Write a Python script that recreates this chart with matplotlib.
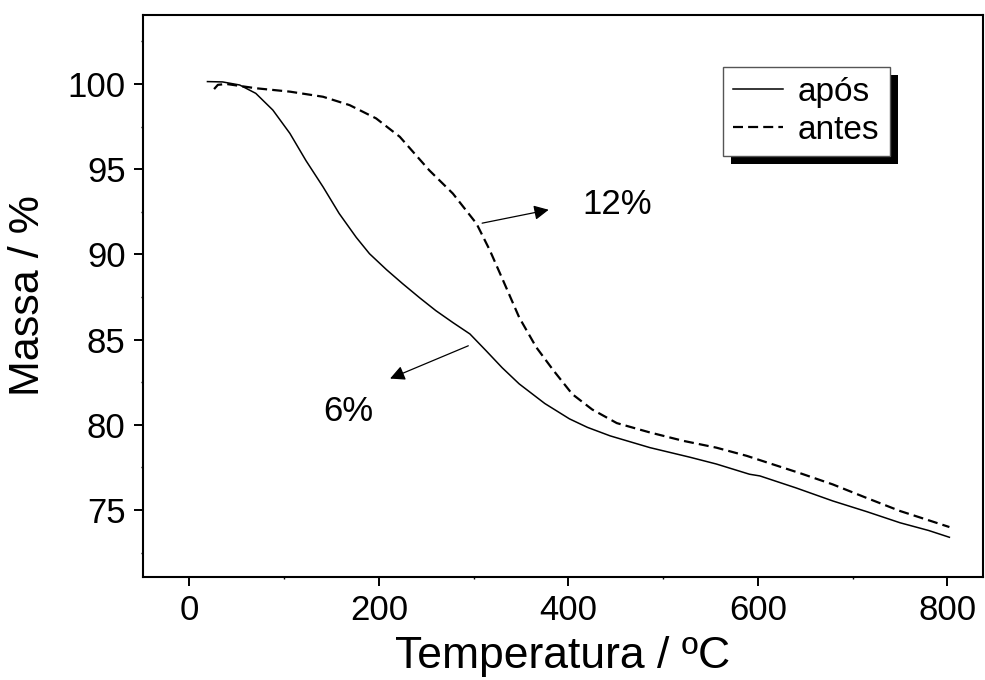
import numpy as np
import matplotlib
matplotlib.use("Agg")
import matplotlib.pyplot as plt
from matplotlib.patches import Rectangle
from matplotlib.ticker import MultipleLocator

plt.rcParams['font.family'] = ['Liberation Sans', 'DejaVu Sans']

# curva depois (após) - linha cheia
t_apos = [19, 35, 53, 70, 88, 106, 123, 141, 158, 176, 190, 208, 225, 243, 260, 278, 296,
          313, 330, 348, 375, 401, 420, 444, 486, 528, 556, 591, 602, 640, 679, 715, 750, 780, 802]
m_apos = [100.14, 100.12, 99.94, 99.45, 98.47, 97.1, 95.5, 93.96, 92.4, 91.0, 90.04, 89.1,
          88.28, 87.45, 86.7, 86.0, 85.33, 84.35, 83.35, 82.4, 81.25, 80.35, 79.85, 79.35,
          78.66, 78.1, 77.7, 77.1, 77.0, 76.3, 75.53, 74.9, 74.25, 73.8, 73.4]

# curva antes - tracejada
t_antes = [26, 30, 39, 70, 106, 141, 169, 197, 222, 253, 278, 303, 317, 331, 348, 366,
           384, 404, 425, 451, 486, 521, 556, 588, 609, 645, 679, 715, 750, 780, 802]
m_antes = [99.7, 99.95, 100.0, 99.75, 99.55, 99.25, 98.76, 97.98, 96.9, 94.94, 93.57, 91.8,
           90.24, 88.47, 86.3, 84.55, 83.2, 81.8, 80.9, 80.1, 79.55, 79.06, 78.66, 78.18,
           77.8, 77.15, 76.5, 75.7, 74.94, 74.4, 74.0]

xticks = [0, 200, 400, 600, 800]
yticks = [75, 80, 85, 90, 95, 100]

fig = plt.figure(figsize=(9.85, 6.8), dpi=100)
ax = fig.add_axes([0.1452, 0.1515, 0.8528, 0.8265])

ax.plot(t_apos, m_apos, color='black', lw=1.1, label='após')
ax.plot(t_antes, m_antes, color='black', lw=1.6, dashes=(4.5, 2.3), label='antes')

ax.set_xlim(-49, 837.5)
ax.set_ylim(71.07, 104.05)
ax.set_xticks(xticks)
ax.set_yticks(yticks)
ax.xaxis.set_minor_locator(MultipleLocator(100))
ax.yaxis.set_minor_locator(MultipleLocator(2.5))
ax.tick_params(which='major', direction='out', length=6.5, width=1.4, pad=6)
ax.tick_params(which='minor', direction='out', length=1.5, width=1.0)
ax.tick_params(axis='x', labelsize=25, pad=6)
ax.tick_params(axis='y', labelsize=25)
for s in ax.spines.values():
    s.set_linewidth(1.5)

ax.set_xlabel('Temperatura / ºC', fontsize=32, labelpad=6)
ax.set_ylabel('Massa / %', fontsize=31, labelpad=14)

# setas
ax.annotate('', xy=(382, 92.65), xytext=(306, 91.8),
            arrowprops=dict(arrowstyle='-|>', color='black', lw=0.9, mutation_scale=22))
ax.text(451, 92.9, '12%', fontsize=25, ha='center', va='center')
ax.annotate('', xy=(209, 82.65), xytext=(297, 84.7),
            arrowprops=dict(arrowstyle='-|>', color='black', lw=0.9, mutation_scale=22))
ax.text(168, 80.8, '6%', fontsize=25, ha='center', va='center')

leg = ax.legend(loc='upper left', bbox_to_anchor=(723 / 985, 1 - 67 / 680),
                bbox_transform=fig.transFigure, fontsize=24, fancybox=False,
                edgecolor='#555555', framealpha=1, handlelength=1.5, handletextpad=0.45,
                borderpad=0.3, labelspacing=0.2, borderaxespad=0)
leg.get_frame().set_linewidth(1.0)
leg.set_zorder(5)

fig.canvas.draw()
bb = leg.get_window_extent()
shadow = Rectangle((bb.x0 + 8, bb.y0 - 8), bb.width, bb.height, transform=None,
                   facecolor='black', edgecolor='none', zorder=4)
ax.add_artist(shadow)

fig.savefig('out.png', dpi=100)
